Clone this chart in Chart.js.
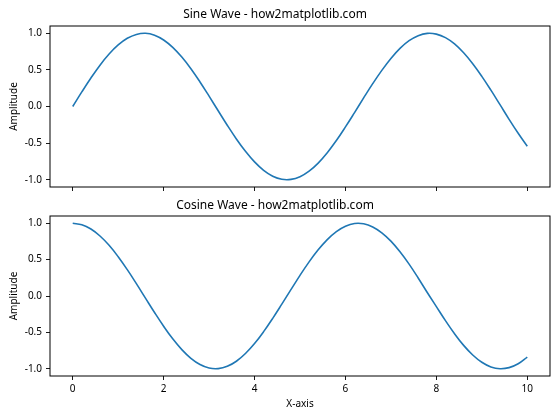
<!DOCTYPE html>
<html><head><meta charset="utf-8">
<script src="https://cdn.jsdelivr.net/npm/chart.js@4/dist/chart.umd.min.js"></script>
<style>
html,body{margin:0;padding:0;background:#fff;}
#wrap{position:relative;width:560px;height:420px;overflow:hidden;}
.box{position:absolute;left:0;width:560px;}
</style></head>
<body>
<div id="wrap">
  <div class="box" style="top:0;height:200px"><canvas id="c1"></canvas></div>
  <div class="box" style="top:195px;height:225px"><canvas id="c2"></canvas></div>
</div>
<script>
const xValues = [0,0.2,0.4,0.6,0.8,1.0,1.2,1.4,1.6,1.8,2.0,2.2,2.4,2.6,2.8,3.0,3.2,3.4,3.6,3.8,4.0,4.2,4.4,4.6,4.8,5.0,5.2,5.4,5.6,5.8,6.0,6.2,6.4,6.6,6.8,7.0,7.2,7.4,7.6,7.8,8.0,8.2,8.4,8.6,8.8,9.0,9.2,9.4,9.6,9.8,10.0];
const sineValues = [0.000,0.199,0.389,0.565,0.717,0.841,0.932,0.985,1.000,0.974,0.909,0.808,0.675,0.516,0.335,0.141,-0.058,-0.256,-0.443,-0.612,-0.757,-0.872,-0.952,-0.994,-0.996,-0.959,-0.883,-0.773,-0.631,-0.465,-0.279,-0.083,0.117,0.312,0.494,0.657,0.794,0.899,0.968,0.999,0.989,0.941,0.855,0.734,0.585,0.412,0.223,0.025,-0.175,-0.366,-0.544];
const cosineValues = [1.000,0.980,0.921,0.825,0.697,0.540,0.362,0.170,-0.029,-0.227,-0.416,-0.589,-0.737,-0.857,-0.942,-0.990,-0.998,-0.967,-0.897,-0.791,-0.654,-0.490,-0.307,-0.112,0.087,0.284,0.469,0.635,0.776,0.886,0.960,0.997,0.993,0.950,0.869,0.754,0.608,0.438,0.248,0.048,-0.146,-0.339,-0.519,-0.679,-0.811,-0.911,-0.975,-1.000,-0.985,-0.932,-0.839];
const yTicks = [-1.0,-0.5,0.0,0.5,1.0];
const xTicks = [0,2,4,6,8,10];
const titles = ['Sine Wave - how2matplotlib.com','Cosine Wave - how2matplotlib.com'];
const yLabel = 'Amplitude';
const xLabel = 'X-axis';

Chart.defaults.font.family = '"Noto Sans", "DejaVu Sans", sans-serif';
Chart.defaults.font.size = 10;
Chart.defaults.color = '#262626';

const frame = {
  id: 'frame',
  afterDraw(chart) {
    const a = chart.chartArea, ctx = chart.ctx;
    ctx.save();
    ctx.strokeStyle = '#000';
    ctx.lineWidth = 1;
    ctx.strokeRect(a.left, a.top, a.right - a.left, a.bottom - a.top);
    ctx.restore();
  }
};

function makeChart(id, values, title, showX, titlePad, xHeight) {
  const pts = xValues.map((x, i) => ({x: x, y: values[i]}));
  return new Chart(document.getElementById(id), {
    type: 'line',
    data: { datasets: [{ data: pts, borderColor: '#1f77b4', borderWidth: 1.6, pointRadius: 0, tension: 0.4, fill: false }] },
    options: {
      responsive: true, maintainAspectRatio: false, animation: false,
      layout: { padding: { left: 0, right: 10, top: 0, bottom: 0 } },
      plugins: {
        legend: { display: false },
        tooltip: { enabled: false },
        title: { display: true, text: title, color: '#000', font: { size: 12, weight: 'normal' }, padding: titlePad }
      },
      scales: {
        x: {
          type: 'linear', min: -0.5, max: 10.5,
          afterBuildTicks: s => { s.ticks = xTicks.map(v => ({value: v})); },
          ticks: { display: true, color: showX ? '#000' : 'rgba(0,0,0,0)', padding: 3, maxRotation: 0, callback: v => String(v) },
          grid: { drawOnChartArea: false, drawTicks: true, tickLength: 4, tickColor: '#000', tickWidth: 0.9 },
          border: { display: false },
          title: { display: showX, text: xLabel, color: '#000', font: { size: 10 }, padding: { top: 0, bottom: 10 } },
          afterFit: s => { s.height = xHeight; }
        },
        y: {
          type: 'linear', min: -1.1, max: 1.1,
          afterBuildTicks: s => { s.ticks = yTicks.map(v => ({value: v})); },
          ticks: { color: '#000', padding: 4, callback: v => Number(v).toFixed(1) },
          grid: { drawOnChartArea: false, drawTicks: true, tickLength: 4, tickColor: '#000', tickWidth: 0.9 },
          border: { display: false },
          title: { display: true, text: yLabel, color: '#000', font: { size: 10 }, padding: { top: 8, bottom: 0 } },
          afterFit: s => { s.width = 50; }
        }
      }
    },
    plugins: [frame]
  });
}

makeChart('c1', sineValues, titles[0], false, { top: 7.8, bottom: 3.8 }, 13);
makeChart('c2', cosineValues, titles[1], true, { top: 3.8, bottom: 2.8 }, 44);
</script>
</body></html>
